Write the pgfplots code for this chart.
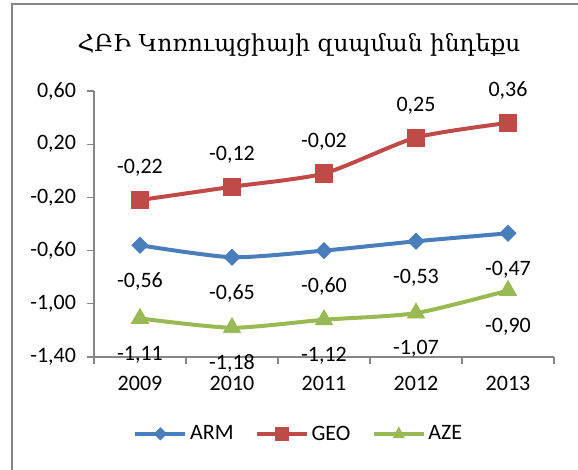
\documentclass[border=0pt]{standalone}
\usepackage{pgfplots}
\pgfplotsset{compat=1.18}
\usepackage{fontspec}
\setmainfont{Carlito}
\newfontfamily\armfont{DejaVu Serif}
\definecolor{armc}{RGB}{74,126,187}
\definecolor{geoc}{RGB}{190,75,72}
\definecolor{azec}{RGB}{152,185,84}
\definecolor{axc}{RGB}{134,134,134}
\begin{document}
\begin{tikzpicture}
\useasboundingbox (0,0) rectangle (433.5pt,352.5pt);
\draw[axc, line width=1.1pt] (9pt,0) -- (9pt,349.5pt) -- (433.5pt,349.5pt);
\node[font=\armfont\fontsize{17.5}{20}\selectfont] at (224.25pt,318.75pt) {ՀԲԻ Կոռուպցիայի զսպման ինդեքս};
\begin{axis}[
  scale only axis,
  width=345pt, height=199.5pt,
  anchor=south west, at={(70.5pt,84.75pt)},
  xmin=0.5, xmax=5.5, ymin=-1.4, ymax=0.6,
  axis lines=left,
  axis line style={-, axc, line width=1pt},
  xtick={1,2,3,4,5},
  xticklabels={2009,2010,2011,2012,2013},
  minor xtick={0.5,1.5,2.5,3.5,4.5,5.5},
  ytick={-1.4,-1.0,-0.6,-0.2,0.2,0.6},
  tick align=outside,
  major x tick style={draw=none},
  minor tick length=5pt,
  major tick length=5pt,
  every tick/.style={axc, line width=1pt},
  tick label style={font=\fontsize{16.5}{19}\selectfont},
  xticklabel style={yshift=-6pt},
  yticklabel style={xshift=-5pt},
  /pgf/number format/assume math mode=true,
  yticklabel style={/pgf/number format/.cd, fixed, fixed zerofill, precision=2, use comma},
  clip=false,
  point meta=explicit symbolic,
  nodes near coords,
  every node near coord/.append style={font=\fontsize{16.5}{19}\selectfont, anchor=center, text=black},
  legend columns=3,
  legend style={draw=none, at={(0.446,-0.289)}, anchor=center, font=\fontsize{16.5}{19}\selectfont,
    /tikz/every even column/.append style={column sep=14pt}},
  legend cell align=left,
]
\addplot[color=armc, line width=3pt, smooth, tension=0.4, mark=square*,
  mark options={solid, rotate=45, fill=armc, draw=armc, line width=0.5pt}, mark size=4.3pt,
  every node near coord/.append style={yshift=-27pt},
  legend image code/.code={\draw[line width=3pt] (0pt,0pt) -- (37.5pt,0pt);
    \draw[line width=0.5pt, fill=armc, rotate around={45:(18.75pt,0pt)}] (15.5pt,-3.25pt) rectangle (22pt,3.25pt);}]
coordinates {(1,-0.56) [-0,56] (2,-0.65) [-0,65] (3,-0.60) [-0,60] (4,-0.53) [-0,53] (5,-0.47) [-0,47]};
\addlegendentry{ARM}
\addplot[color=geoc, line width=3pt, smooth, tension=0.4, mark=square*,
  mark options={solid, fill=geoc, draw=geoc, line width=0.5pt}, mark size=6.5pt,
  every node near coord/.append style={yshift=24pt},
  legend image code/.code={\draw[line width=3pt] (0pt,0pt) -- (37.5pt,0pt);
    \draw[line width=0.5pt, fill=geoc] (14pt,-4.75pt) rectangle (23.5pt,4.75pt);}]
coordinates {(1,-0.22) [-0,22] (2,-0.12) [-0,12] (3,-0.02) [-0,02] (4,0.25) [0,25] (5,0.36) [0,36]};
\addlegendentry{GEO}
\addplot[color=azec, line width=3pt, smooth, tension=0.4, mark=triangle*,
  mark options={solid, fill=azec, draw=azec, line width=0.5pt}, mark size=7.5pt,
  every node near coord/.append style={yshift=-27pt},
  legend image code/.code={\draw[line width=3pt] (0pt,0pt) -- (37.5pt,0pt);
    \draw[line width=0.5pt, fill=azec] (18.75pt,5pt) -- (14.5pt,-3pt) -- (23pt,-3pt) -- cycle;}]
coordinates {(1,-1.11) [-1,11] (2,-1.18) [-1,18] (3,-1.12) [-1,12] (4,-1.07) [-1,07] (5,-0.90) [-0,90]};
\addlegendentry{AZE}
\end{axis}
\end{tikzpicture}
\end{document}
